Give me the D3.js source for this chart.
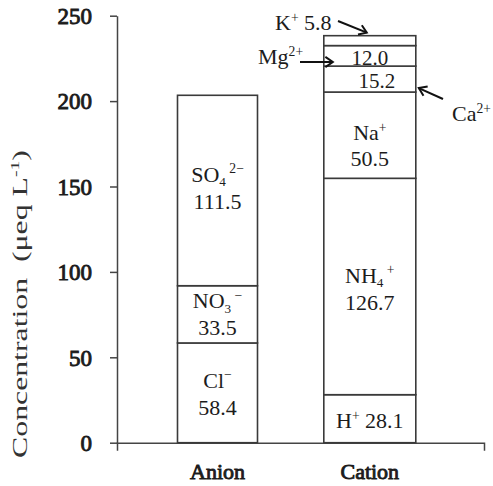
<!DOCTYPE html>
<html><head><meta charset="utf-8">
<script src="https://cdn.jsdelivr.net/npm/d3@7"></script>
<style>
body{margin:0;background:#fff}
svg{display:block}
</style>
</head><body>
<svg id="c" width="493" height="486"></svg>
<script>
// ---- data ----
const categories = ["Anion", "Cation"];
const anionIons = ["Cl^{−}", "NO_{3}^{ −}", "SO_{4}^{ 2−}"];
const anionValues = [58.4, 33.5, 111.5];
const cationIons = ["H^{+}", "NH_{4}^{ +}", "Na^{+}", "Ca^{2+}", "Mg^{2+}", "K^{+}"];
const cationValues = [28.1, 126.7, 50.5, 15.2, 12.0, 5.8];
const yTicks = [0, 50, 100, 150, 200, 250];
const yTitle = "Concentration  (μeq L^{-1})";

// ---- pick an installed Times-like font ----
function pickFont() {
  const ctx = document.createElement("canvas").getContext("2d");
  const sample = "Concentration 0123456789 Anion";
  ctx.font = "40px monospace"; const base = ctx.measureText(sample).width;
  const cands = ["Liberation Serif", "Tinos", "Times New Roman", "Nimbus Roman", "FreeSerif", "Times"];
  for (const c of cands) {
    ctx.font = `40px "${c}", monospace`;
    if (Math.abs(ctx.measureText(sample).width - base) > 0.5) return `"${c}", serif`;
  }
  return "serif";
}
const FONT = pickFont();
d3.select("head").append("style").text(`text{font-family:${FONT};fill:#1c1c1c;font-weight:normal}`);

// ---- layout ----
const svg = d3.select("#c");
const y = d3.scaleLinear().domain([0, 250]).range([442.7, 15.7]);
const x = d3.scalePoint().domain(categories).range([217.5, 369.8]);
const xAxisScale = d3.scaleBand().domain(categories).range([117, 484]);
const barWidth = {Anion: 80, Cation: 92};
const FS = 22;

function rich(text, str, fs) {
  const parts = str.match(/_\{[^}]*\}|\^\{[^}]*\}|[^_^]+/g);
  let shift = 0;
  parts.forEach(p => {
    let t, s = 0, size = fs;
    if (p[0] === "_") { t = p.slice(2, -1); s = 0.2 * fs; size = fs * 0.6; }
    else if (p[0] === "^") { t = p.slice(2, -1); s = -0.38 * fs; size = fs * 0.62; }
    else t = p;
    text.append("tspan").attr("dy", s - shift).style("font-size", size + "px")
      .style("white-space", "pre").text(t);
    shift = s;
  });
  return text;
}
// faux bold: the serif face's bold is not installed
function boldish(sel) {
  return sel.attr("stroke", "#1c1c1c").attr("stroke-width", 0.9).attr("paint-order", "stroke");
}

function stackData(cat, ions, values) {
  let acc = 0;
  return values.map((v, i) => {
    const d = {cat, ion: ions[i], value: v, y0: acc, y1: acc + v, i};
    acc += v;
    return d;
  });
}
const anion = stackData("Anion", anionIons, anionValues);
const cation = stackData("Cation", cationIons, cationValues);
const all = anion.concat(cation);

// y axis
const yAxis = svg.append("g").attr("transform", "translate(117,0)")
  .call(d3.axisLeft(y).tickValues(yTicks).tickSize(7).tickSizeOuter(0).tickPadding(18));
yAxis.attr("font-family", null).attr("font-size", null);
yAxis.selectAll("path,line").attr("stroke", "#444").attr("stroke-width", 1.5);
boldish(yAxis.selectAll("text").style("font-size", "23px").attr("dy", "0.34em").attr("fill", "#1c1c1c"));

// x axis
const xAxis = svg.append("g").attr("transform", `translate(0,${y(0)})`)
  .call(d3.axisBottom(xAxisScale).tickValues([]).tickSizeOuter(8));
xAxis.selectAll("path").attr("stroke", "#444").attr("stroke-width", 1.5);

boldish(svg.append("g").selectAll("text").data(categories).join("text")
  .attr("x", d => x(d)).attr("y", 479).attr("text-anchor", "middle")
  .style("font-size", "22px").text(d => d));

// bars
svg.append("g").selectAll("rect").data(all).join("rect")
  .attr("x", d => x(d.cat) - barWidth[d.cat] / 2)
  .attr("width", d => barWidth[d.cat])
  .attr("y", d => y(d.y1))
  .attr("height", d => y(d.y0) - y(d.y1))
  .attr("fill", "#fff").attr("stroke", "#3a3a3a").attr("stroke-width", 1.6);

// labels inside segments
const labels = svg.append("g");
function center(d) { return (y(d.y0) + y(d.y1)) / 2; }
const twoLine = {"Anion0": -5, "Anion1": -6, "Anion2": -9, "Cation1": -4, "Cation2": 5};
all.forEach(d => {
  const key = d.cat + d.i;
  const cx = x(d.cat), cy = center(d);
  if (key in twoLine) {
    const off = twoLine[key];
    rich(labels.append("text").attr("x", cx).attr("y", cy + off).attr("text-anchor", "middle")
      .style("font-size", FS + "px"), d.ion, FS);
    labels.append("text").attr("x", cx).attr("y", cy + off + (key === "Cation2" ? 26 : 27))
      .attr("text-anchor", "middle").style("font-size", FS + "px").text(d.value.toFixed(1));
  } else if (key === "Cation0") {
    rich(labels.append("text").attr("x", cx).attr("y", cy + 9.5).attr("text-anchor", "middle")
      .style("font-size", FS + "px"), d.ion + " " + d.value.toFixed(1), FS);
  } else if (key === "Cation3" || key === "Cation4") {
    labels.append("text").attr("x", cx + (key === "Cation3" ? 7 : 0)).attr("y", cy + (key === "Cation3" ? 9 : 9.5))
      .attr("text-anchor", "middle").style("font-size", (FS - 1) + "px").text(d.value.toFixed(1));
  }
});

// outside annotations with arrows
const ann = svg.append("g");
function arrow(x1, y1, x2, y2) {
  const a = Math.atan2(y2 - y1, x2 - x1), L = 9, w = 0.6;
  ann.append("line").attr("x1", x1).attr("y1", y1).attr("x2", x2).attr("y2", y2)
    .attr("stroke", "#111").attr("stroke-width", 2);
  ann.append("path")
    .attr("d", `M${x2 - L * Math.cos(a - w)},${y2 - L * Math.sin(a - w)}L${x2},${y2}L${x2 - L * Math.cos(a + w)},${y2 - L * Math.sin(a + w)}`)
    .attr("fill", "none").attr("stroke", "#111").attr("stroke-width", 2);
}
const cx = x("Cation"), bw = barWidth.Cation;
const K = cation[5], Mg = cation[4], Ca = cation[3];
// K+
rich(ann.append("text").attr("x", 275).attr("y", 30).style("font-size", FS + "px"),
  K.ion + " " + K.value.toFixed(1), FS);
arrow(338, 21, cx - 3, y(K.y1) - 3);
// Mg2+
rich(ann.append("text").attr("x", 258).attr("y", 64).style("font-size", FS + "px"), Mg.ion, FS);
arrow(300, 62, cx - bw / 2 + 9, 62);
// Ca2+
rich(ann.append("text").attr("x", 452).attr("y", 121).style("font-size", FS + "px"), Ca.ion, FS);
arrow(443, 99, cx + bw / 2 + 3, y(Ca.y0) - 4);

// y title
const tt = svg.append("text").attr("text-anchor", "middle").style("font-size", "20px").style("fill", "#333");
rich(tt, yTitle, 20);
const natural = tt.node().getComputedTextLength();
const sx = 308 / natural;
tt.attr("transform", `translate(27,304) rotate(-90) scale(${sx},1)`);
</script>
</body></html>
